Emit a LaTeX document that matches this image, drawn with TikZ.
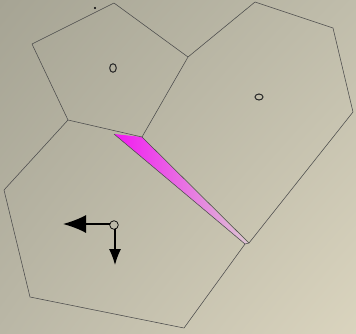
\documentclass[tikz,border=0pt]{standalone}
\usetikzlibrary{arrows.meta,shadings}
\definecolor{bgtl}{RGB}{166,164,148}
\definecolor{bgtr}{RGB}{192,189,171}
\definecolor{bgbl}{RGB}{186,183,166}
\definecolor{bgbr}{RGB}{218,212,190}
\definecolor{edge}{RGB}{75,75,75}
\definecolor{mag}{RGB}{242,24,242}
\definecolor{magend}{RGB}{222,196,212}
\tikzset{
  cell/.style={draw=edge, line width=0.55pt, line join=round},
  site/.style={draw=black!85, line width=1pt},
}
\begin{document}
\begin{tikzpicture}[x=1pt,y=-1pt]
\useasboundingbox (0,0) rectangle (356,333);
\shade[upper left=bgtl, upper right=bgtr, lower left=bgbl, lower right=bgbr] (0,0) rectangle (356,333);
% sliver
\shade[left color=mag, right color=magend] (114,134) -- (142,137) -- (248,243) -- (245,244) -- cycle;
\draw[cell] (114,134) -- (245,244);
% pentagon cell
\draw[cell] (114,3) -- (188,57) -- (142,137) -- (68,120) -- (32,44) -- cycle;
% right cell
\draw[cell] (188,57) -- (255,2) -- (333,28) -- (353,112) -- (249,243) -- (142,137);
% lower-left cell
\draw[cell] (68,120) -- (4,190) -- (30,297) -- (184,328) -- (245,244);
\draw[cell] (245,244) -- (249,243);
% sites
\fill[black] (95,8) circle (1.2);
\draw[site] (113,68) ellipse (3.3 and 4.3);
\draw[site] (259,97) ellipse (4 and 3);
\draw[line width=0.7pt] (114,225) circle (4.3);
\coordinate (c) at (114,225);
\coordinate (l) at (63,224);
\coordinate (d) at (115,265);
\draw[line width=1.6pt, -{Latex[length=23pt,width=18pt]}] (109.5,224) -- (l);
\draw[line width=1.1pt, -{Latex[length=16pt,width=12pt]}] (115,229.3) -- (d);
\end{tikzpicture}
\end{document}
